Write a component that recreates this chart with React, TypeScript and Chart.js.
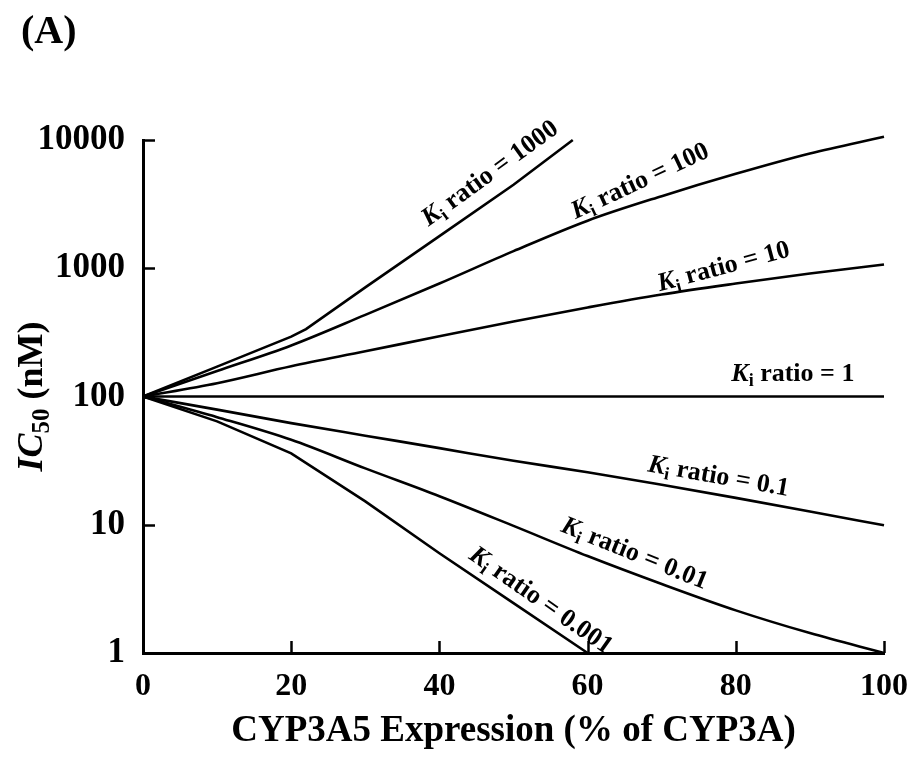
import React, { useEffect, useRef } from "react";
import { Chart, registerables } from "chart.js";

Chart.register(...registerables);

const FAMILY = "'Liberation Serif', 'Times New Roman', serif";

// CYP3A5 expression (% of CYP3A)
const expression = [0, 10, 20, 30, 40, 50, 60, 70, 80, 90, 100];
const ratio1000X = [0, 10, 20, 22, 30, 40, 50, 58];
const ratio1000 = [100, 171, 293, 335, 710, 1780, 4480, 10000];
const ratio100 = [100, 158, 250, 433, 760, 1360, 2350, 3650, 5450, 7850, 10600];
const ratio10 = [100, 127, 172, 225, 295, 385, 495, 625, 760, 910, 1070];
const ratio1X = [0, 100];
const ratio1 = [100, 100];
const ratio0_1 = [100, 79, 62, 49.5, 39.6, 31.5, 25.7, 20.5, 16.2, 12.7, 9.9];
const ratio0_01 = [100, 69, 46, 27.5, 16.7, 9.8, 5.7, 3.45, 2.15, 1.43, 1];
const ratio0_001X = [0, 10, 20, 30, 40, 50, 60];
const ratio0_001 = [100, 64, 36, 15.2, 6, 2.45, 1];

const xTickValues = [0, 20, 40, 60, 80, 100];
const yTickValues = [1, 10, 100, 1000, 10000];

const ratioNames = ["1000", "100", "10", "1", "0.1", "0.01", "0.001"];
// label anchors (data coordinates) and text angles
const labelAtX = [46.7, 67, 78.3, 87.7, 77.7, 66.4, 53.8];
const labelAtY = [5600, 4880, 1052, 153, 24.4, 6.1, 2.62];
const labelAngle = [-36, -25, -15, 0, 10, 22, 35];

const toPoints = (xs: number[], ys: number[]) => xs.map((x, i) => ({ x, y: ys[i] }));

function drawKi(ctx: CanvasRenderingContext2D, value: string, cx: number, cy: number, angleDeg: number) {
  const big = 26;
  const small = 18;
  ctx.save();
  ctx.translate(cx, cy);
  ctx.rotate((angleDeg * Math.PI) / 180);
  ctx.fillStyle = "#000";
  ctx.textBaseline = "alphabetic";
  ctx.textAlign = "left";
  ctx.font = `italic bold ${big}px ${FAMILY}`;
  const wK = ctx.measureText("K").width;
  ctx.font = `bold ${small}px ${FAMILY}`;
  const wi = ctx.measureText("i").width;
  ctx.font = `bold ${big}px ${FAMILY}`;
  const rest = " ratio = " + value;
  const wr = ctx.measureText(rest).width;
  const total = wK + wi + wr;
  let x = -total / 2;
  const base = big * 0.33;
  ctx.font = `italic bold ${big}px ${FAMILY}`;
  ctx.fillText("K", x, base);
  x += wK;
  ctx.font = `bold ${small}px ${FAMILY}`;
  ctx.fillText("i", x, base + 5);
  x += wi;
  ctx.font = `bold ${big}px ${FAMILY}`;
  ctx.fillText(rest, x, base);
  ctx.restore();
}

const decorPlugin = {
  id: "decor",
  afterDraw(chart: any) {
    const ctx: CanvasRenderingContext2D = chart.ctx;
    const xs = chart.scales.x;
    const ys = chart.scales.y;
    const area = chart.chartArea;
    ctx.save();
    ctx.strokeStyle = "#000";
    ctx.lineWidth = 2.5;
    // inward tick marks
    xTickValues.forEach((v) => {
      if (v === 0) return;
      const px = Math.round(xs.getPixelForValue(v)) + 0.5;
      ctx.beginPath();
      ctx.moveTo(px, area.bottom);
      ctx.lineTo(px, area.bottom - 12);
      ctx.stroke();
    });
    yTickValues.forEach((v) => {
      if (v === 1) return;
      const py = Math.round(ys.getPixelForValue(v)) + 0.5;
      ctx.beginPath();
      ctx.moveTo(area.left, py);
      ctx.lineTo(area.left + 12, py);
      ctx.stroke();
    });

    // panel letter
    ctx.fillStyle = "#000";
    ctx.textAlign = "left";
    ctx.textBaseline = "alphabetic";
    ctx.font = `bold 40px ${FAMILY}`;
    ctx.fillText("(A)", 21, 43);

    // y axis title: IC50 (nM)
    ctx.save();
    ctx.translate(42, (area.top + area.bottom) / 2);
    ctx.rotate(-Math.PI / 2);
    ctx.font = `italic bold 36px ${FAMILY}`;
    const wIC = ctx.measureText("IC").width;
    ctx.font = `bold 25px ${FAMILY}`;
    const w50 = ctx.measureText("50").width;
    ctx.font = `bold 36px ${FAMILY}`;
    const wNM = ctx.measureText(" (nM)").width;
    let tx = -(wIC + w50 + wNM) / 2;
    ctx.font = `italic bold 36px ${FAMILY}`;
    ctx.fillText("IC", tx, 0);
    tx += wIC;
    ctx.font = `bold 25px ${FAMILY}`;
    ctx.fillText("50", tx, 7);
    tx += w50;
    ctx.font = `bold 36px ${FAMILY}`;
    ctx.fillText(" (nM)", tx, 0);
    ctx.restore();

    // curve labels
    ratioNames.forEach((name, i) => {
      drawKi(ctx, name, xs.getPixelForValue(labelAtX[i]), ys.getPixelForValue(labelAtY[i]), labelAngle[i]);
    });
    ctx.restore();
  },
};

export default function App() {
  const canvasRef = useRef<HTMLCanvasElement | null>(null);

  useEffect(() => {
    document.body.style.margin = "0";
    const canvas = canvasRef.current;
    if (!canvas) return;
    const line = (xs: number[], ys: number[], smooth: boolean) => ({
      data: toPoints(xs, ys),
      borderColor: "#000",
      borderWidth: 2.6,
      pointRadius: 0,
      tension: 0,
      cubicInterpolationMode: smooth ? "monotone" : "default",
      fill: false,
      clip: 10,
    });
    const chart = new Chart(canvas, {
      type: "line",
      data: {
        datasets: [
          line(ratio1000X, ratio1000, false),
          line(expression, ratio100, true),
          line(expression, ratio10, true),
          line(ratio1X, ratio1, false),
          line(expression, ratio0_1, true),
          line(expression, ratio0_01, true),
          line(ratio0_001X, ratio0_001, false),
        ] as any,
      },
      options: {
        animation: false,
        responsive: false,
        maintainAspectRatio: false,
        layout: { padding: { left: 0, top: 140, right: 37, bottom: 0 } },
        plugins: {
          legend: { display: false },
          tooltip: { enabled: false },
          title: { display: false },
        },
        scales: {
          x: {
            type: "linear",
            min: 0,
            max: 100,
            afterBuildTicks: (s: any) => {
              s.ticks = xTickValues.map((v) => ({ value: v }));
            },
            ticks: {
              color: "#000",
              font: { family: FAMILY, size: 32, weight: "bold" },
              padding: 15,
              maxRotation: 0,
              autoSkip: false,
            },
            grid: { display: false, drawTicks: false },
            border: { display: true, color: "#000", width: 3 },
            title: {
              display: true,
              text: "CYP3A5 Expression (% of CYP3A)",
              color: "#000",
              font: { family: FAMILY, size: 37, weight: "bold" },
              padding: { top: 0, bottom: 4 },
            },
            afterFit: (s: any) => {
              s.height = 105;
            },
          },
          y: {
            type: "logarithmic",
            min: 1,
            max: 10000,
            afterBuildTicks: (s: any) => {
              s.ticks = yTickValues.map((v) => ({ value: v }));
            },
            ticks: {
              color: "#000",
              font: { family: FAMILY, size: 35, weight: "bold" },
              padding: 18,
              autoSkip: false,
              callback: (v: any) => String(v),
            },
            grid: { display: false, drawTicks: false },
            border: { display: true, color: "#000", width: 3 },
            afterFit: (s: any) => {
              s.width = 143;
            },
          },
        },
      } as any,
      plugins: [decorPlugin],
    });
    return () => chart.destroy();
  }, []);

  return (
    <div style={{ width: 923, height: 758, background: "#fff" }}>
      <canvas ref={canvasRef} width={923} height={758} style={{ display: "block" }} />
    </div>
  );
}
